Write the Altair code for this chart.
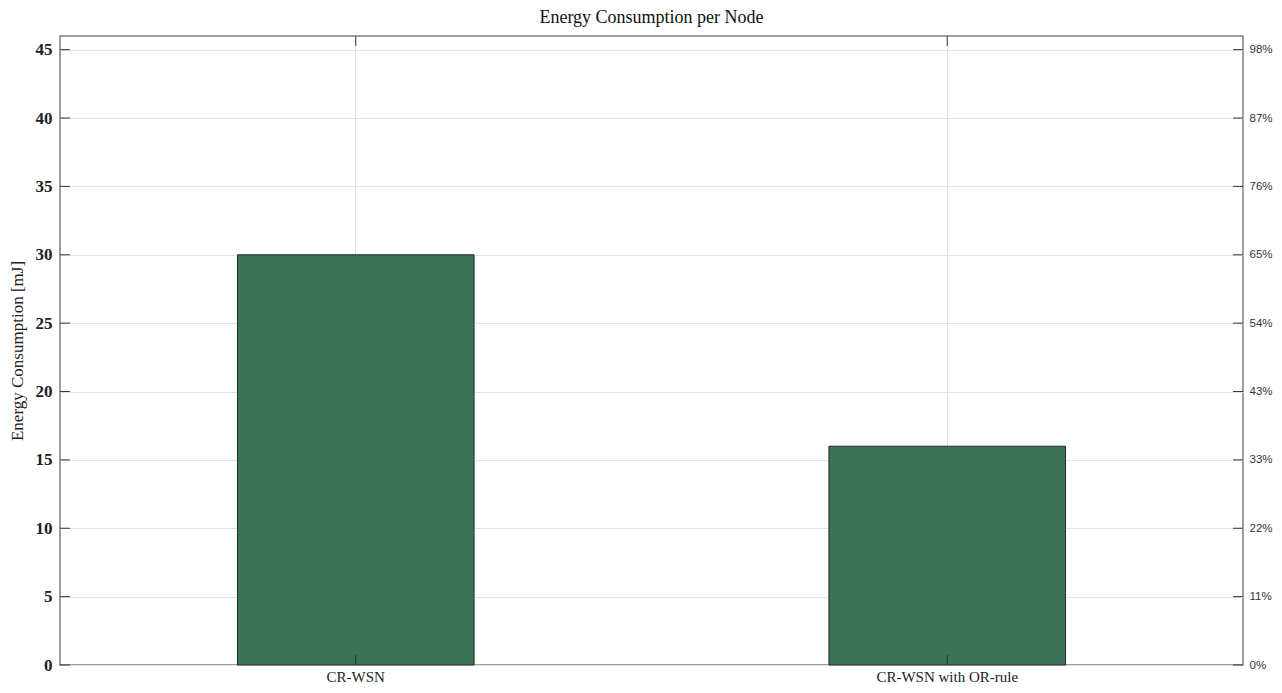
import altair as alt
import pandas as pd

categories = ["CR-WSN", "CR-WSN with OR-rule"]
energy = [30, 16]
y_ticks = [0, 5, 10, 15, 20, 25, 30, 35, 40, 45]
Y_MAX = 46

W, H = 1183, 629

df = pd.DataFrame({"cat": categories, "energy": energy})
ticks_df = pd.DataFrame({"v": y_ticks})

serif = "Liberation Serif"
yscale = alt.Scale(domain=[0, Y_MAX], nice=False, zero=True)
xscale = alt.Scale(domain=categories, paddingInner=0.6, paddingOuter=0.3)

x_axis = alt.Axis(
    title=None, grid=True, gridColor="#e2e2e2", bandPosition=0.5, labelAngle=0,
    domain=False, ticks=False, labelFont=serif, labelFontSize=15,
    labelColor="#222222", labelPadding=4,
)
y_left = alt.Axis(
    values=y_ticks, title="Energy Consumption [mJ]", titleFont=serif,
    titleFontSize=17, titleFontWeight="normal", titleColor="#222222",
    titlePadding=9, labelFont=serif, labelFontSize=17, labelFontWeight="bold",
    labelColor="#222222", labelPadding=8, ticks=False, domain=False,
    grid=True, gridColor="#e2e2e2",
)
y_right = alt.Axis(
    orient="right", values=y_ticks, title=None, ticks=False, domain=False,
    grid=False, labelFont="Liberation Sans", labelFontSize=11.5,
    labelColor="#333344", labelPadding=6,
    labelExpr=f"format(datum.value / {Y_MAX} * 100, '.0f') + '%'",
)

bars = alt.Chart(df).mark_bar(color="#3c7257", stroke="#1e2b24", strokeWidth=1).encode(
    x=alt.X("cat:N", sort=categories, scale=xscale, axis=x_axis),
    y=alt.Y("energy:Q", scale=yscale, axis=y_left),
)

left_ticks = alt.Chart(ticks_df).mark_rule(color="#333333", strokeWidth=1).encode(
    x=alt.value(0), x2=alt.value(10),
    y=alt.Y("v:Q", scale=yscale, axis=None),
)
right_ticks = alt.Chart(ticks_df).mark_rule(color="#333333", strokeWidth=1).encode(
    x=alt.value(W - 10), x2=alt.value(W),
    y=alt.Y("v:Q", scale=yscale, axis=y_right),
)
top_ticks = alt.Chart(df).mark_rule(color="#333333", strokeWidth=1).encode(
    x=alt.X("cat:N", sort=categories, scale=xscale, axis=None),
    y=alt.value(0), y2=alt.value(10),
)
bottom_ticks = alt.Chart(df).mark_rule(color="#333333", strokeWidth=1).encode(
    x=alt.X("cat:N", sort=categories, scale=xscale, axis=None),
    y=alt.value(H - 10), y2=alt.value(H),
)

chart = alt.layer(bars, left_ticks, right_ticks, top_ticks, bottom_ticks).resolve_scale(
    y="shared", x="shared"
).resolve_axis(y="independent", x="independent").properties(
    width=W, height=H,
    title=alt.TitleParams("Energy Consumption per Node", font=serif, fontSize=18,
                          fontWeight="normal", color="#111111", offset=9),
    autosize=alt.AutoSizeParams(type="none"),
    padding={"left": 52, "top": 28, "right": 30, "bottom": 19},
).configure_view(stroke="#7f7f7f", strokeWidth=1.5)

chart.save("out.html", embed_options={"renderer": "svg", "actions": False})
